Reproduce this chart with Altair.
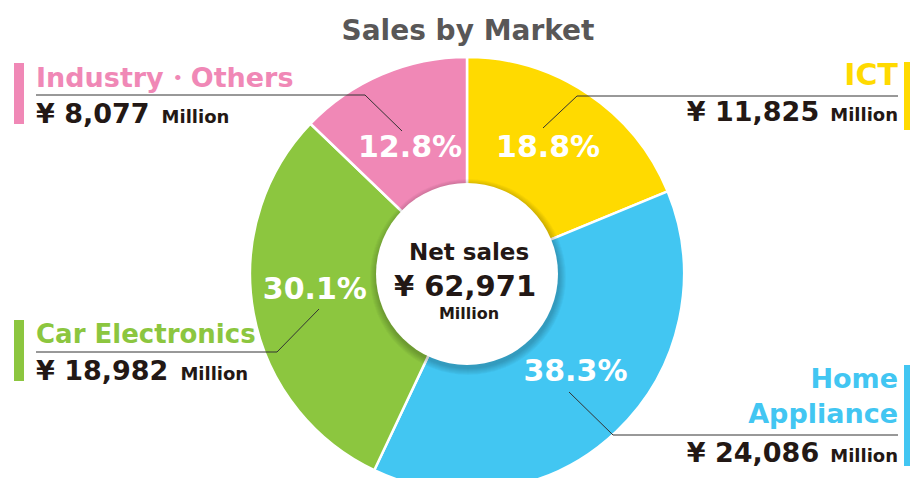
import altair as alt
import pandas as pd

# ---------------- data ----------------
categories = ["ICT", "Home Appliance", "Car Electronics", "Industry・Others"]
sales_million = [11825, 24086, 18982, 8077]
share_pct = [18.8, 38.3, 30.1, 12.8]
net_sales = 62971
title_text = "Sales by Market"

# ---------------- style / layout ----------------
colors = ["#FFDA00", "#42C6F2", "#8CC63F", "#F088B6"]
label_radius = [150, 146, 153, 138]      # distance of the % labels from the centre
label_nudge_deg = [-1.1, -4.4, 4.3, -1.3]  # small angular shift of the % labels
W, H = 902, 470
CX, CY = 459, 266
R_OUT, R_IN = 217, 91
FONT = "DejaVu Sans"
INK = "#231815"
LINE = "#333333"

# DejaVu Sans Bold advance widths (em) for layout of mixed-size texts
ADV = {"¥": 0.696, " ": 0.348, ",": 0.380, "M": 0.995, "i": 0.343, "l": 0.343,
       "o": 0.687, "n": 0.712}
for d in "0123456789":
    ADV[d] = 0.696


def text_w(s, size):
    return sum(ADV.get(c, 0.65) for c in s) * size


def fmt_yen(v):
    return "¥ " + f"{v:,}"


df = pd.DataFrame({
    "category": categories,
    "sales": sales_million,
    "order": list(range(len(categories))),
    "label": [f"{p:.1f}%" for p in share_pct],
    "label_r": label_radius,
    "nudge": label_nudge_deg,
})
one = pd.DataFrame({"a": [0]})

color_scale = alt.Scale(domain=categories, range=colors)
layers = []

# pie slices
layers.append(
    alt.Chart(df).mark_arc(outerRadius=R_OUT, innerRadius=R_IN - 4,
                           stroke="white", strokeWidth=2.5).encode(
        theta=alt.Theta("sales:Q", stack=True),
        order=alt.Order("order:Q"),
        color=alt.Color("category:N", scale=color_scale, legend=None),
        x=alt.value(CX), y=alt.value(CY),
    )
)

# soft shadow of centre disc
for k in range(1, 8):
    layers.append(
        alt.Chart(one).mark_arc(theta=0, theta2=6.2832, outerRadius=R_IN + k,
                                innerRadius=0, fill="#000000", opacity=0.03).encode(
            x=alt.value(CX + 1), y=alt.value(CY + 3))
    )
# centre disc
layers.append(
    alt.Chart(one).mark_arc(theta=0, theta2=6.2832, outerRadius=R_IN,
                            innerRadius=0, fill="white").encode(
        x=alt.value(CX), y=alt.value(CY))
)

# percent labels at the middle angle of each slice
layers.append(
    alt.Chart(df).transform_joinaggregate(
        total="sum(sales)"
    ).transform_window(
        cum="sum(sales)", sort=[alt.SortField("order")], frame=[None, 0]
    ).transform_calculate(
        mid_angle="2 * PI * (datum.cum - datum.sales / 2) / datum.total + datum.nudge * PI / 180"
    ).mark_text(font=FONT, fontWeight="bold", fontSize=30, color="white",
                baseline="middle").encode(
        theta=alt.Theta("mid_angle:Q", scale=None, stack=False),
        radius=alt.Radius("label_r:Q", scale=None, stack=False),
        text="label:N",
        x=alt.value(CX), y=alt.value(CY),
    )
)


def txt(s, x, y, size, color=INK, align="left", weight="bold"):
    return alt.Chart(one).mark_text(text=s, font=FONT, fontWeight=weight, fontSize=size,
                                    color=color, align=align, baseline="alphabetic").encode(
        x=alt.value(x), y=alt.value(y))


def rule(x1, y1, x2, y2):
    return alt.Chart(one).mark_rule(color=LINE, strokeWidth=1).encode(
        x=alt.value(x1), y=alt.value(y1), x2=alt.value(x2), y2=alt.value(y2))


def bar(x1, y1, x2, y2, color):
    return alt.Chart(one).mark_rect(color=color).encode(
        x=alt.value(x1), y=alt.value(y1), x2=alt.value(x2), y2=alt.value(y2))


# title
layers.append(txt(title_text, 460, 32, 28, color="#595757", align="center"))

# centre text
layers.append(txt("Net sales", 461, 252, 23, align="center"))
layers.append(txt(fmt_yen(net_sales), 457, 288, 29, align="center"))
layers.append(txt("Million", 461, 311, 16, align="center"))

# callout layout
layout = {
    "Industry・Others": dict(side="left", names=["Industry・Others"], name_y=[79], name_size=27,
                            val_y=115, hy=87, hx=357, dx=394, dy=123, bar=(55, 116)),
    "ICT": dict(side="right", names=["ICT"], name_y=[77], name_size=30,
                val_y=113, hy=88, hx=569, dx=535, dy=120, bar=(54, 122)),
    "Car Electronics": dict(side="left", names=["Car Electronics"], name_y=[335], name_size=26,
                            val_y=372, hy=344, hx=269, dx=311, dy=301, bar=(312, 373)),
    "Home Appliance": dict(side="right", names=["Home", "Appliance"], name_y=[380, 415], name_size=27,
                           val_y=454, hy=427, hx=605, dx=561, dy=384, bar=(357, 458)),
}

LEFT_X, RIGHT_X = 28, 890
for cat, val, col in zip(categories, sales_million, colors):
    L = layout[cat]
    vs = fmt_yen(val)
    if L["side"] == "left":
        layers.append(bar(6, L["bar"][0], 16, L["bar"][1], col))
        for nm, ny in zip(L["names"], L["name_y"]):
            layers.append(txt(nm, LEFT_X, ny, L["name_size"], color=col))
        layers.append(rule(LEFT_X, L["hy"], L["hx"], L["hy"]))
        layers.append(rule(L["hx"], L["hy"], L["dx"], L["dy"]))
        layers.append(txt(vs, LEFT_X, L["val_y"], 27))
        layers.append(txt("Million", LEFT_X + text_w(vs, 27) + 12, L["val_y"], 18))
    else:
        layers.append(bar(896, L["bar"][0], 902, L["bar"][1], col))
        for nm, ny in zip(L["names"], L["name_y"]):
            layers.append(txt(nm, RIGHT_X, ny, L["name_size"], color=col, align="right"))
        layers.append(rule(L["hx"], L["hy"], RIGHT_X, L["hy"]))
        layers.append(rule(L["hx"], L["hy"], L["dx"], L["dy"]))
        layers.append(txt("Million", RIGHT_X, L["val_y"], 18, align="right"))
        layers.append(txt(vs, RIGHT_X - text_w("Million", 18) - 11, L["val_y"], 27, align="right"))

chart = alt.layer(*layers).properties(
    width=W, height=H,
    autosize=alt.AutoSizeParams(type="none"),
    padding=0,
    background="white",
).configure_view(stroke=None)

chart.save("out.html", embed_options={"renderer": "svg", "actions": False})
